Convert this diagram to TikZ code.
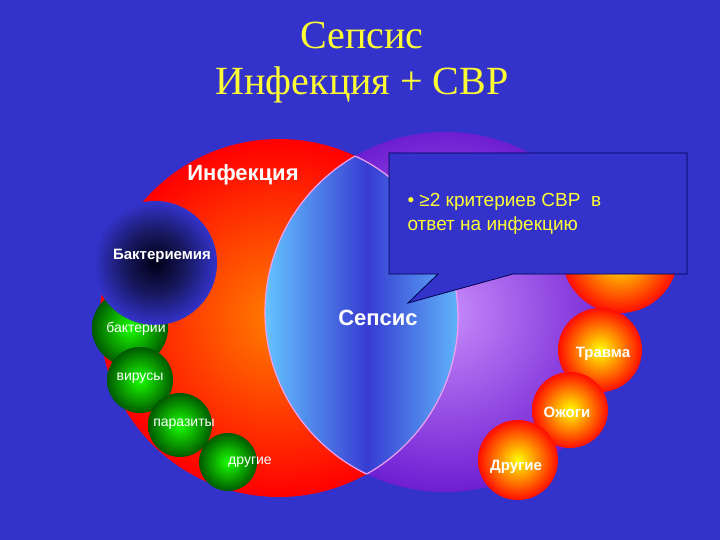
\documentclass[tikz,border=0pt]{standalone}
\usepackage{fontspec}
\setmainfont{Liberation Sans}
\newfontfamily\serif{Liberation Serif}
\usetikzlibrary{shadings}
\definecolor{bg}{HTML}{3333CC}
\definecolor{ttl}{HTML}{FFFF33}
\definecolor{pinkline}{HTML}{F0A0F0}
\definecolor{lb}{RGB}{100,195,255}
\definecolor{mb}{RGB}{55,60,210}
\pgfdeclarehorizontalshading{lensshade}{100bp}{color(0bp)=(lb); color(25bp)=(lb); color(50bp)=(mb); color(75bp)=(lb); color(100bp)=(lb)}
\pgfdeclareradialshading{bmshade}{\pgfpoint{0bp}{0bp}}{color(0bp)=(black!90!blue); color(12bp)=(bg!45!black); color(25bp)=(bg); color(50bp)=(bg)}
\tikzset{
  ball/.style={circle,inner sep=0pt,minimum size=#1},
  greenball/.style={ball=#1,inner color=green!90!yellow,outer color=green!35!black},
  orangeball/.style={ball=#1,inner color=yellow,outer color=red!90!orange},
  lbl/.style={text=white,font=\bfseries},
}
\begin{document}
\begin{tikzpicture}[x=1pt,y=-1pt]
\fill[bg] (0,0) rectangle (720,540);
\useasboundingbox (0,0) rectangle (720,540);
% title
\node[text=ttl,font=\serif\fontsize{40}{44}\selectfont] (t1) at (362,35) {Сепсис};
\node[text=ttl,font=\serif\fontsize{40}{44}\selectfont] (t2) at (362,85) {Инфекция + СВР};
% big circles
\node[ball=360pt,inner color={rgb,255:red,200;green,140;blue,250},outer color={rgb,255:red,110;green,30;blue,210}] (sirs) at (445,312) {};
\node[ball=358pt,inner color=orange,outer color=red] (inf) at (279,318) {};
% lens
\begin{scope}
\clip (279,318) circle (179);
\clip (445,312) circle (180);
\begin{scope}[y=1pt]
\shade[shading=lensshade] (265,-520) rectangle (470,-120);
\end{scope}
\end{scope}
\begin{scope}
\clip (279,318) circle (179);
\draw[pinkline,line width=1.2pt] (445,312) circle (180);
\end{scope}
\begin{scope}
\clip (445,312) circle (180);
\draw[pinkline,line width=1.2pt] (279,318) circle (179);
\end{scope}
% orange balls
\node[orangeball=116pt] (big) at (620,255) {};
\node[orangeball=84pt] (trauma) at (600,350) {};
\node[orangeball=76pt] (burns) at (570,410) {};
\node[orangeball=80pt] (oth) at (518,460) {};
% green balls
\node[greenball=76pt] (bact) at (130,328) {};
\node[greenball=66pt] (vir) at (140,380) {};
\node[greenball=64pt] (par) at (180,425) {};
\node[greenball=58pt] (dr) at (228,462) {};
% bacteremia
\node[ball=124pt,shading=bmshade] (bm) at (155,263) {};
% callout
\draw[fill=bg,draw=black!70!blue,line width=0.8pt] (389,153) -- (687,153) -- (687,274) -- (513,274) -- (408,303) -- (438,274) -- (389,274) -- cycle;
\node[text=ttl,align=left,anchor=north west,font=\fontsize{19}{24}\selectfont] (ct) at (404,190) {• ≥2 критериев СВР\ \ в\\ответ на инфекцию};
% labels
\node[lbl,font=\bfseries\fontsize{22}{26}\selectfont] (linf) at (243,175) {Инфекция};
\node[lbl,font=\bfseries\fontsize{15}{18}\selectfont] (lbm) at (162,256) {Бактериемия};
\node[lbl,font=\bfseries\fontsize{22}{26}\selectfont] (lsep) at (378,318) {Сепсис};
\node[lbl,font=\fontsize{14}{16}\selectfont] (lb) at (136,329) {бактерии};
\node[lbl,font=\fontsize{14}{16}\selectfont] (lv) at (140,378) {вирусы};
\node[lbl,font=\fontsize{14}{16}\selectfont] (lp) at (184,424) {паразиты};
\node[lbl,font=\fontsize{14}{16}\selectfont] (ld) at (250,462) {другие};
\node[lbl,font=\bfseries\fontsize{15}{18}\selectfont] (lt) at (603,354) {Травма};
\node[lbl,font=\bfseries\fontsize{15}{18}\selectfont] (lo) at (567,412) {Ожоги};
\node[lbl,font=\bfseries\fontsize{15}{18}\selectfont] (lo2) at (516,467) {Другие};
\end{tikzpicture}
\end{document}
